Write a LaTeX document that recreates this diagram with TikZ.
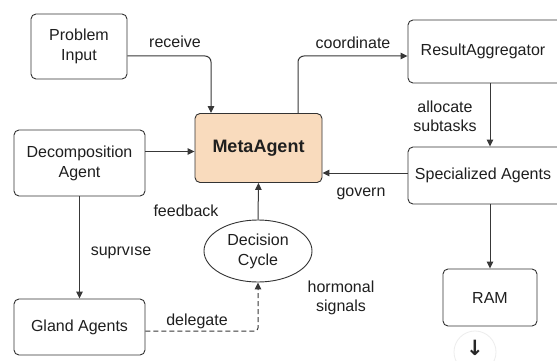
\documentclass[tikz,border=0pt]{standalone}
\usepackage{fontspec}
\setmainfont{Liberation Sans}
\newfontfamily\arrowfont{DejaVu Sans}
\usetikzlibrary{arrows.meta,shapes.geometric}
\begin{document}
\begin{tikzpicture}[x=1pt,y=-1pt,
	box/.style={draw=black!80,line width=.9pt,rounded corners=5pt,align=center,inner sep=0pt,font=\fontsize{16}{20}\selectfont,text=black!88},
	lbl/.style={align=center,font=\fontsize{16}{19}\selectfont,text=black!88},
	link/.style={draw=black!78,line width=1pt,-{Triangle[length=7pt,width=6.5pt]}}]
	\clip(0,0)rectangle(557,361);
	\fill[white](0,0)rectangle(557,361);
	% boxes
	\node[box,minimum width=96pt,minimum height=65pt](input)at(79,46.5){Problem\\Input};
	\node[box,minimum width=131pt,minimum height=66pt](decomp)at(79.5,163){Decomposition\\Agent};
	\node[box,minimum width=131pt,minimum height=56pt](gland)at(79.5,327){Gland Agents};
	\node[box,fill={rgb,255:red,249;green,219;blue,189},minimum width=127pt,minimum height=69pt,font=\fontsize{18}{20}\selectfont\bfseries](meta)at(258.5,148){MetaAgent};
	\node[box,minimum width=164pt,minimum height=63pt](result)at(490,51.5){\hspace*{-14pt}ResultAggregator};
	\node[box,minimum width=164pt,minimum height=57pt](spec)at(490,175.5){\hspace*{-14pt}Specialized Agents};
	\node[box,minimum width=94pt,minimum height=57pt](ram)at(490,297.5){RAM};
	\node[box,ellipse,minimum width=108pt,minimum height=62pt](cycle)at(258,251){Decision\\Cycle};
	\draw[black!7,line width=.8pt](475,352)circle(21);
	\node[font=\arrowfont\fontsize{21}{21}\selectfont\bfseries,text=black!85,inner sep=0pt](down)at(475,348){↓};
	% connectors
	\draw[link,rounded corners=6pt]([yshift=-9.5pt]input.east)-|([xshift=-47.5pt]meta.north);
	\draw[link,rounded corners=6pt]([xshift=39.5pt]meta.north)|-([yshift=-4.5pt]result.west);
	\draw[link](result.south)--(spec.north);
	\draw[link]([yshift=2.5pt]spec.west)--([yshift=2.5pt]spec.west-|meta.east);
	\draw[link]([yshift=11.5pt]decomp.east)--([yshift=11.5pt]decomp.east-|meta.west);
	\draw[link](spec.south)--(ram.north);
	\draw[link](decomp.south)--(gland.north);
	\draw[link](cycle.north)--(meta.south);
	\draw[link,dashed,dash pattern=on 5pt off 3pt,rounded corners=3pt]([yshift=-4pt]gland.east)-|(cycle.south);
	% labels
	\node[lbl](receive)at(175,42){receive};
	\node[lbl](coord)at(353,43){coordinate};
	\node[lbl](alloc)at(445,116){allocate\\subtasks};
	\node[lbl](govern)at(361,194){govern};
	\node[lbl](feed)at(186,211){feedback};
	\node[lbl](sup)at(121,253){suprvıse};
	\node[lbl](deleg)at(197,321){delegate};
	\node[lbl](horm)at(341,298){hormonal\\signals};
\end{tikzpicture}
\end{document}
